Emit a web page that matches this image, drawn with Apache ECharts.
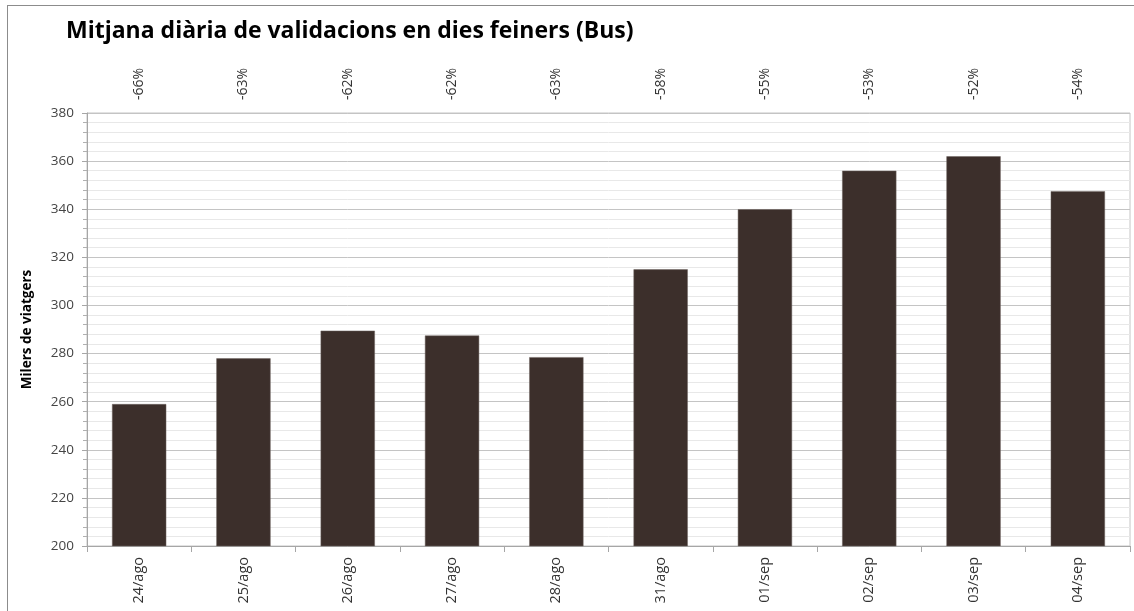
<!DOCTYPE html>
<html>
<head>
<meta charset="utf-8">
<script src="https://cdn.jsdelivr.net/npm/echarts@6/dist/echarts.min.js"></script>
<style>
  html, body { margin: 0; padding: 0; background: #fff; }
  #wrap { position: relative; width: 1134px; height: 611px; overflow: hidden; }
  #frame { position: absolute; left: 7px; top: 5px; width: 1200px; height: 700px; border-left: 1px solid #8c8c8c; border-top: 1px solid #8c8c8c; pointer-events: none; }
  #chart { position: absolute; left: 0; top: 0; width: 1134px; height: 611px; }
</style>
</head>
<body>
<div id="wrap">
  <div id="chart"></div>
  <div id="frame"></div>
</div>
<script>
const categories = ['24/ago', '25/ago', '26/ago', '27/ago', '28/ago', '31/ago', '01/sep', '02/sep', '03/sep', '04/sep'];
const values = [259, 278, 289.5, 287.5, 278.5, 315, 340, 356, 362, 347.5];
const changes = ['-66%', '-63%', '-62%', '-62%', '-63%', '-58%', '-55%', '-53%', '-52%', '-54%'];
const titleText = 'Mitjana diària de validacions en dies feiners (Bus)';
const yName = 'Milers de viatgers';

const chart = echarts.init(document.getElementById('chart'), null, { renderer: 'canvas' });
chart.setOption({
  animation: false,
  backgroundColor: '#ffffff',
  title: {
    text: titleText,
    left: 61,
    top: 15,
    textStyle: { fontFamily: 'Open Sans', fontWeight: 'bold', fontSize: 23, color: '#000' }
  },
  grid: {
    left: 87, right: 4, top: 113, bottom: 65,
    show: true, borderColor: '#c4c4c4', borderWidth: 1, backgroundColor: 'transparent'
  },
  xAxis: [
    {
      type: 'category',
      data: categories,
      position: 'bottom',
      axisLine: { lineStyle: { color: '#a6a6a6' } },
      axisTick: { show: true, length: 6, lineStyle: { color: '#a6a6a6' } },
      axisLabel: { rotate: 90, margin: 11, fontFamily: 'Open Sans', fontSize: 14.5, color: '#333' }
    },
    {
      type: 'category',
      data: changes,
      position: 'top',
      axisLine: { show: false },
      axisTick: { show: false },
      axisLabel: { rotate: -90, margin: 13, fontFamily: 'Open Sans', fontSize: 14, color: '#333' }
    }
  ],
  yAxis: {
    type: 'value',
    min: 200, max: 380, interval: 20,
    name: yName,
    nameLocation: 'middle',
    nameGap: 53,
    nameRotate: 90,
    nameTextStyle: { fontFamily: 'Open Sans', fontWeight: 'bold', fontSize: 13.5, color: '#000' },
    axisLine: { show: true, lineStyle: { color: '#a6a6a6' } },
    axisTick: { show: true, length: 5, lineStyle: { color: '#a6a6a6' } },
    minorTick: { show: true, splitNumber: 5, length: 4, lineStyle: { color: '#b0b0b0' } },
    axisLabel: { margin: 13, fontFamily: 'Open Sans', fontSize: 13.5, color: '#444' },
    splitLine: { show: true, lineStyle: { color: '#c4c4c4', width: 1 } },
    minorSplitLine: { show: true, lineStyle: { color: '#e8e8e8', width: 1 } }
  },
  series: [
    {
      type: 'bar',
      data: values,
      xAxisIndex: 0,
      barWidth: '52%',
      itemStyle: { color: '#3c2f2b', borderColor: '#6e6460', borderWidth: 0.5 }
    }
  ]
});
</script>
</body>
</html>
